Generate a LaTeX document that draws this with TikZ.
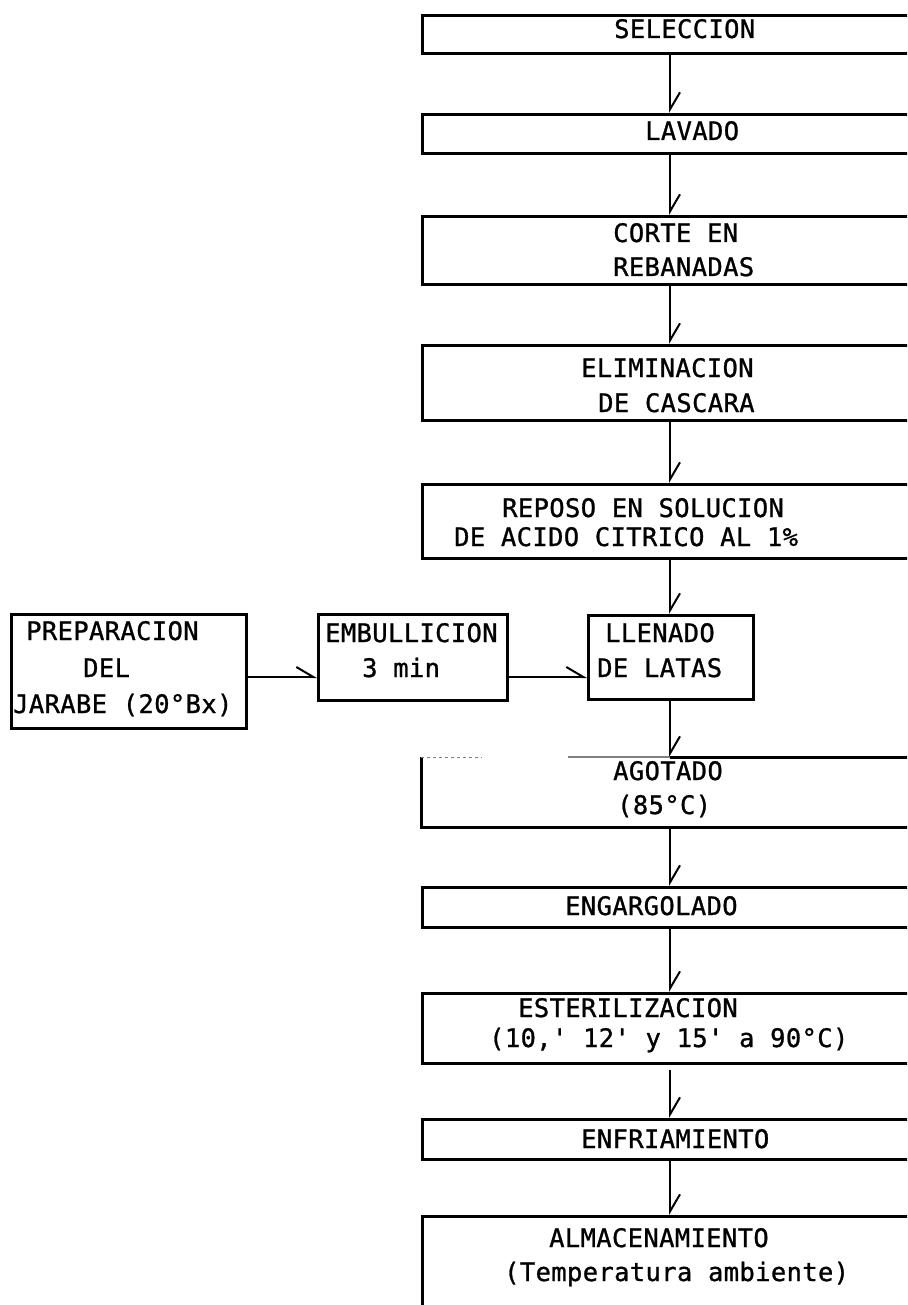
\documentclass[tikz,border=0pt]{standalone}
\usepackage{fontspec}
\newfontfamily\tw[LetterSpace=1.4,Ligatures=TeXOff,FakeBold=1]{DejaVu Sans Mono}
\usetikzlibrary{arrows.meta}
\begin{document}
\begin{tikzpicture}[x=1pt,y=-1pt,
  box/.style={draw, line width=3pt, inner sep=0pt, anchor=north west},
  txt/.style={anchor=base west, inner sep=0pt, font=\tw\fontsize{25.5}{30}\selectfont},
  flow/.style={line width=2pt, -{Straight Barb[left, length=17pt, width=20pt, line width=2pt]}}]
\useasboundingbox (0,0) rectangle (907,1305);
\clip (0,0) rectangle (907,1305);
\fill[white] (0,0) rectangle (907,1305);
\coordinate (ax) at (670,0);
\coordinate (ay) at (0,677);
% right column boxes
\node[box, minimum width=520pt, minimum height=38pt] (sel) at (421,14) {};
\node[box, minimum width=520pt, minimum height=39pt] (lav) at (421,113) {};
\node[box, minimum width=520pt, minimum height=68pt] (cor) at (421,215) {};
\node[box, minimum width=520pt, minimum height=75pt] (eli) at (421,344) {};
\node[box, minimum width=520pt, minimum height=74pt] (rep) at (421,483) {};
\node[box, minimum width=235pt, minimum height=114pt] (pre) at (10,613) {};
\node[box, minimum width=189pt, minimum height=86pt] (emb) at (317,613) {};
\node[box, minimum width=165pt, minimum height=84pt] (lle) at (587,614) {};
\node[inner sep=0pt, anchor=north west, minimum width=520pt, minimum height=70pt] (ago) at (421,757) {};
\draw[line width=3pt] (ago.north west) -- (ago.south west) -- (ago.south east);
\draw[line width=1pt, dashed, gray] (ago.north west) -- ++(61,0);
\draw[line width=1.2pt, gray] ([xshift=147pt]ago.north west) -- ++(102,0);
\draw[line width=3pt] ([xshift=249pt]ago.north west) -- (ago.north east);
\node[box, minimum width=520pt, minimum height=40pt] (eng) at (421,886) {};
\node[box, minimum width=520pt, minimum height=70pt] (est) at (421,992) {};
\node[box, minimum width=520pt, minimum height=40pt] (enf) at (421,1118) {};
\node[box, minimum width=520pt, minimum height=105pt] (alm) at (421,1215) {};
% texts
\node[txt] (t1) at (614,38) {SELECCION};
\node[txt] (t2) at (645,140) {LAVADO};
\node[txt] (t3) at (613,242) {CORTE EN};
\node[txt] (t4) at (613,276) {REBANADAS};
\node[txt] (t5) at (581,377) {ELIMINACION};
\node[txt] (t6) at (598,412) {DE CASCARA};
\node[txt] (t7) at (502,517) {REPOSO EN SOLUCION};
\node[txt] (t8) at (454,546) {DE ACIDO CITRICO AL 1\%};
\node[txt] (t9) at (26,640) {PREPARACION};
\node[txt] (t10) at (83,677) {DEL};
\node[txt] (t11) at (13,713) {JARABE (20°Bx)};
\node[txt] (t12) at (325,642) {EMBULLICION};
\node[txt] (t13) at (362,677) {3 min};
\node[txt] (t14) at (605,642) {LLENADO};
\node[txt] (t15) at (597,677) {DE LATAS};
\node[txt] (t16) at (613,780) {AGOTADO};
\node[txt] (t17) at (617,814) {(85°C)};
\node[txt] (t18) at (565,915) {ENGARGOLADO};
\node[txt] (t19) at (518,1017) {ESTERILIZACION};
\node[txt] (t20) at (489,1047) {(10,' 12' y 15' a 90°C)};
\node[txt] (t21) at (581,1148) {ENFRIAMIENTO};
\node[txt] (t22) at (549,1247) {ALMACENAMIENTO};
\node[txt] (t23) at (504,1281) {(Temperatura ambiente)};
% connectors
\draw[flow] (sel.south -| ax) -- (lav.north -| ax);
\draw[flow] (lav.south -| ax) -- (cor.north -| ax);
\draw[flow] (cor.south -| ax) -- (eli.north -| ax);
\draw[flow] (eli.south -| ax) -- (rep.north -| ax);
\draw[flow] (rep.south -| ax) -- (lle.north -| ax);
\draw[flow] (lle.south -| ax) -- (ago.north -| ax);
\draw[flow] (ago.south -| ax) -- (eng.north -| ax);
\draw[flow] (eng.south -| ax) -- (est.north -| ax);
\draw[flow, shorten <=5pt] (est.south -| ax) -- (enf.north -| ax);
\draw[flow] (enf.south -| ax) -- (alm.north -| ax);
\draw[flow] (pre.east |- ay) -- (emb.west |- ay);
\draw[flow] (emb.east |- ay) -- (lle.west |- ay);
\end{tikzpicture}
\end{document}
